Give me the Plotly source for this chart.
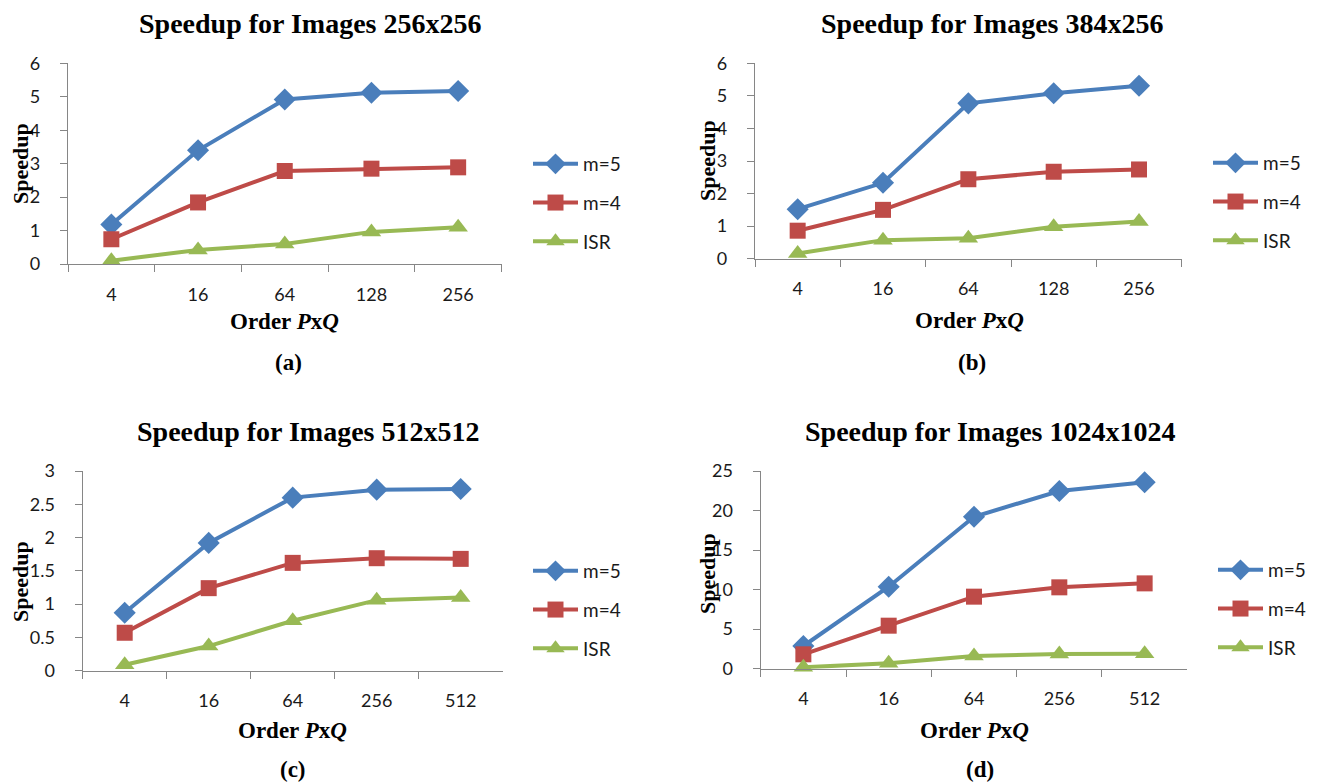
import plotly.graph_objects as go

W, H = 1317, 783
OFF = 8  # page body margin offset of the rendered figure

# ---------------- data ----------------
cats_ab = ["4", "16", "64", "128", "256"]
cats_cd = ["4", "16", "64", "256", "512"]
series_names = ["m=5", "m=4", "ISR"]

a_m5 = [1.18, 3.40, 4.92, 5.12, 5.17]
a_m4 = [0.74, 1.84, 2.78, 2.85, 2.89]
a_isr = [0.10, 0.42, 0.60, 0.96, 1.10]

b_m5 = [1.52, 2.33, 4.77, 5.08, 5.31]
b_m4 = [0.86, 1.50, 2.44, 2.67, 2.74]
b_isr = [0.16, 0.57, 0.63, 0.98, 1.14]

c_m5 = [0.87, 1.92, 2.60, 2.72, 2.73]
c_m4 = [0.57, 1.24, 1.62, 1.69, 1.68]
c_isr = [0.09, 0.37, 0.75, 1.06, 1.10]

d_m5 = [2.87, 10.37, 19.22, 22.47, 23.57]
d_m4 = [1.82, 5.44, 9.11, 10.29, 10.79]
d_isr = [0.17, 0.68, 1.60, 1.86, 1.90]

titles = ["Speedup for Images 256x256", "Speedup for Images 384x256",
          "Speedup for Images 512x512", "Speedup for Images 1024x1024"]
panel_labels = ["(a)", "(b)", "(c)", "(d)"]
y_ranges = [[0, 6], [0, 6], [0, 3], [0, 25]]
y_dticks = [1, 1, 0.5, 5]

# ---------------- styling ----------------
colors = ["#4A7EBB", "#BE4B48", "#98B954"]
symbols = ["diamond", "square", "triangle-up"]
msizes = [17, 16, 17]
SERIF = "Liberation Serif, Times New Roman, serif"
SANS = "Lato, Carlito, Calibri, sans-serif"

def px_x(p):
    return (p - OFF) / W

def px_y(p):
    return 1 - (p - OFF) / H

# plot-area pixel boxes (target page pixels): (x0, x1, y_top, y_bottom)
boxes = [(68, 501.5, 63.3, 264.0),
         (755, 1181.7, 63.3, 258.7),
         (82.7, 502.7, 471.0, 670.7),
         (760.7, 1187.3, 471.0, 668.7)]
legend_pos = [(528, 145), (1208, 144), (528, 552), (1213, 551)]
title_pos = [(310, 24), (992, 24), (308, 431), (990, 431)]
ytitle_pos = [(20, 164), (707, 161), (20, 582), (707, 574)]
xtitle_pos = [(284, 321), (969, 320), (292, 730), (974, 730)]
plabel_pos = [(288, 362), (972, 362), (293, 769), (980, 769)]

panels = [
    (cats_ab, [a_m5, a_m4, a_isr]),
    (cats_ab, [b_m5, b_m4, b_isr]),
    (cats_cd, [c_m5, c_m4, c_isr]),
    (cats_cd, [d_m5, d_m4, d_isr]),
]

fig = go.Figure()
layout_upd = {}
annotations = []

for i, (cats, series) in enumerate(panels):
    n = i + 1
    xa = "x" if n == 1 else f"x{n}"
    ya = "y" if n == 1 else f"y{n}"
    lg = "legend" if n == 1 else f"legend{n}"
    for s, vals in enumerate(series):
        fig.add_trace(go.Scatter(
            x=cats, y=vals, name=series_names[s], mode="lines+markers",
            xaxis=xa, yaxis=ya, legend=lg, legendgroup=f"{n}-{s}",
            line=dict(color=colors[s], width=4),
            marker=dict(symbol=symbols[s], size=msizes[s], color=colors[s]),
            cliponaxis=False,
        ))
    x0, x1, yt, yb = boxes[i]
    xkey = "xaxis" if n == 1 else f"xaxis{n}"
    ykey = "yaxis" if n == 1 else f"yaxis{n}"
    layout_upd[xkey] = dict(
        domain=[px_x(x0), px_x(x1)], anchor=ya, type="category",
        range=[-0.5, 4.5], showline=True, linecolor="#868686", linewidth=1.3,
        ticks="outside", tickson="boundaries", ticklen=7, tickcolor="#868686",
        ticklabelstandoff=14, automargin=False,
        showgrid=False, zeroline=False,
        tickfont=dict(family=SANS, size=18, color="#1a1a1a"),
    )
    layout_upd[ykey] = dict(
        domain=[px_y(yb), px_y(yt)], anchor=xa, range=y_ranges[i],
        dtick=y_dticks[i], showline=True, linecolor="#868686", linewidth=1.3,
        ticks="outside", ticklen=7, tickcolor="#868686",
        ticklabelstandoff=16, automargin=False,
        showgrid=False, zeroline=False,
        tickfont=dict(family=SANS, size=18, color="#1a1a1a"),
    )
    lx, ly = legend_pos[i]
    layout_upd[lg] = dict(
        x=px_x(lx), y=px_y(ly), xanchor="left", yanchor="top",
        font=dict(family=SANS, size=19, color="#1a1a1a"),
        bgcolor="rgba(0,0,0,0)", tracegroupgap=11, itemwidth=45,
        traceorder="grouped",
    )
    tx, ty = title_pos[i]
    annotations.append(dict(
        text=f"<b>{titles[i]}</b>", x=px_x(tx), y=px_y(ty), xref="paper",
        yref="paper", showarrow=False, xanchor="center", yanchor="middle",
        font=dict(family=SERIF, size=28, color="black")))
    ax_, ay_ = ytitle_pos[i]
    annotations.append(dict(
        text="<b>Speedup</b>", x=px_x(ax_), y=px_y(ay_), xref="paper",
        yref="paper", showarrow=False, textangle=-90, xanchor="center",
        yanchor="middle", font=dict(family=SERIF, size=22, color="black")))
    bx, by = xtitle_pos[i]
    annotations.append(dict(
        text="<b>Order <i>P</i>x<i>Q</i></b>", x=px_x(bx), y=px_y(by),
        xref="paper", yref="paper", showarrow=False, xanchor="center",
        yanchor="middle", font=dict(family=SERIF, size=23, color="black")))
    cx, cy = plabel_pos[i]
    annotations.append(dict(
        text=f"<b>{panel_labels[i]}</b>", x=px_x(cx), y=px_y(cy),
        xref="paper", yref="paper", showarrow=False, xanchor="center",
        yanchor="middle", font=dict(family=SERIF, size=23, color="black")))

fig.update_layout(
    width=W, height=H, margin=dict(l=0, r=0, t=0, b=0, autoexpand=False),
    paper_bgcolor="white", plot_bgcolor="white",
    annotations=annotations, showlegend=True,
    **layout_upd,
)

fig.write_html("out.html")
